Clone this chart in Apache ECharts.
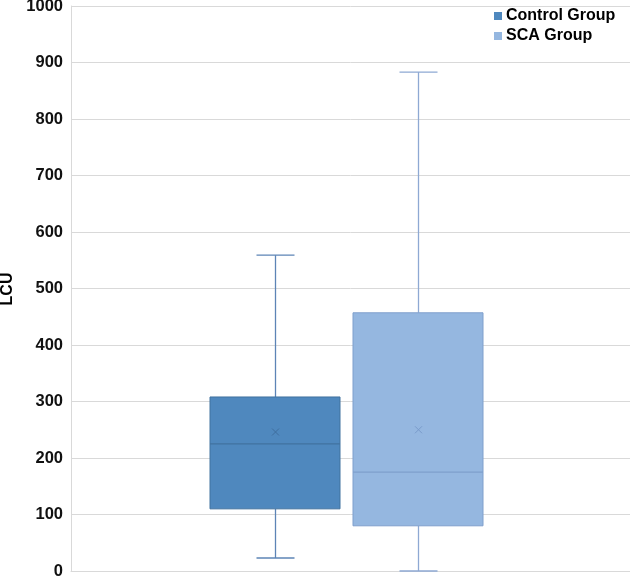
<!DOCTYPE html>
<html>
<head>
<meta charset="utf-8">
<script src="https://cdn.jsdelivr.net/npm/echarts@6/dist/echarts.min.js"></script>
<style>
html,body{margin:0;padding:0;background:#fff;}
#chart{width:630px;height:579px;}
</style>
</head>
<body>
<div id="chart"></div>
<script>
// ---- data ----
const groups = ['Control Group', 'SCA Group'];
const whiskerMin = [23, 0];
const q1 = [110, 80];
const median = [225, 175];
const q3 = [308, 457];
const whiskerMax = [559, 883];
const mean = [246, 250];
const yTicks = [0, 100, 200, 300, 400, 500, 600, 700, 800, 900, 1000];
const yAxisTitle = 'LCU';

// ---- styles ----
const fills = ['#4F88BE', '#95B7E0'];
const strokes = ['#41729F', '#7F9FCC'];
const whiskerColors = ['#5D84B6', '#8EA9D3'];
const meanColors = ['#3F6E9E', '#7A9BCB'];
const offsets = [-75.5, 67.5];
const boxW = 130;
const capW = 38;

function makeRender(i) {
  return function (params, api) {
    const cx = api.coord([0, 0])[0] + offsets[i];
    const yMin = api.coord([0, api.value(1)])[1];
    const yQ1 = api.coord([0, api.value(2)])[1];
    const yMed = api.coord([0, api.value(3)])[1];
    const yQ3 = api.coord([0, api.value(4)])[1];
    const yMax = api.coord([0, api.value(5)])[1];
    const yMean = api.coord([0, api.value(6)])[1];
    const wl = { stroke: whiskerColors[i], lineWidth: 1.3 };
    const x0 = Math.round(cx) + 0.5;
    const m = 3.5;
    return {
      type: 'group',
      children: [
        { type: 'line', shape: { x1: x0, y1: yMax, x2: x0, y2: yQ3 }, style: wl },
        { type: 'line', shape: { x1: x0, y1: yQ1, x2: x0, y2: yMin }, style: wl },
        { type: 'line', shape: { x1: x0 - capW / 2, y1: yMax, x2: x0 + capW / 2, y2: yMax }, style: wl },
        { type: 'line', shape: { x1: x0 - capW / 2, y1: yMin, x2: x0 + capW / 2, y2: yMin }, style: wl },
        { type: 'rect', shape: { x: cx - boxW / 2, y: yQ3, width: boxW, height: yQ1 - yQ3 },
          style: { fill: fills[i], stroke: strokes[i], lineWidth: 1 } },
        { type: 'line', shape: { x1: cx - boxW / 2, y1: yMed, x2: cx + boxW / 2, y2: yMed },
          style: { stroke: strokes[i], lineWidth: 1.3 } },
        { type: 'line', shape: { x1: x0 - m, y1: yMean - m, x2: x0 + m, y2: yMean + m },
          style: { stroke: meanColors[i], lineWidth: 1 } },
        { type: 'line', shape: { x1: x0 - m, y1: yMean + m, x2: x0 + m, y2: yMean - m },
          style: { stroke: meanColors[i], lineWidth: 1 } }
      ]
    };
  };
}

const series = groups.map(function (name, i) {
  return {
    type: 'custom',
    name: name,
    renderItem: makeRender(i),
    itemStyle: { color: fills[i] },
    encode: { x: 0, y: [1, 2, 3, 4, 5, 6] },
    data: [[0, whiskerMin[i], q1[i], median[i], q3[i], whiskerMax[i], mean[i]]],
    silent: true
  };
});

const chart = echarts.init(document.getElementById('chart'), null, { renderer: 'canvas' });
chart.setOption({
  animation: false,
  backgroundColor: '#ffffff',
  textStyle: { fontFamily: 'Liberation Sans, Arial, sans-serif' },
  legend: {
    orient: 'vertical',
    left: 489,
    top: 3,
    icon: 'rect',
    itemWidth: 8,
    itemHeight: 8,
    itemGap: 4,
    textStyle: { fontSize: 16, fontWeight: 'bold', color: '#000', padding: [0, 0, 0, -1] },
    data: groups.map(function (g, i) {
      return { name: g, itemStyle: { color: fills[i], borderColor: strokes[i], borderWidth: 0 } };
    })
  },
  graphic: [{
    type: 'text',
    x: 8,
    y: 289,
    rotation: Math.PI / 2,
    style: {
      text: yAxisTitle,
      fill: '#000',
      font: 'bold 16px "Liberation Sans", Arial, sans-serif',
      align: 'center',
      verticalAlign: 'middle'
    }
  }],
  grid: { left: 71, right: 0, top: 6, bottom: 8, containLabel: false, outerBoundsMode: 'none' },
  xAxis: {
    type: 'category',
    data: [''],
    axisLine: { show: true, lineStyle: { color: '#D9D9D9' } },
    axisTick: { show: false },
    axisLabel: { show: false },
    splitLine: { show: false }
  },
  yAxis: {
    type: 'value',
    min: yTicks[0],
    max: yTicks[yTicks.length - 1],
    interval: 100,
    axisLine: { show: true, lineStyle: { color: '#D9D9D9' } },
    axisTick: { show: false },
    axisLabel: { fontSize: 16.5, fontWeight: 'bold', color: '#111', margin: 8,
      formatter: function (v) { return String(v); } },
    splitLine: { show: true, lineStyle: { color: '#D9D9D9', width: 1 } }
  },
  series: series
});
</script>
</body>
</html>
